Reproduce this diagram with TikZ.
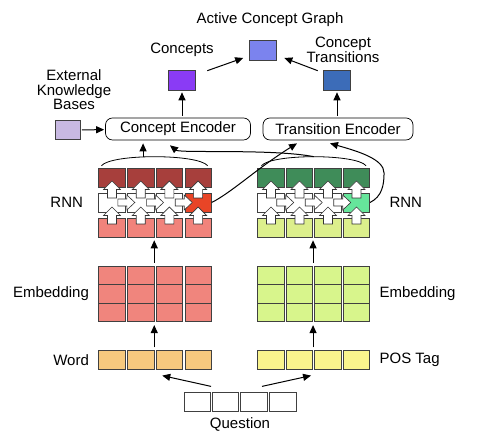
\documentclass[tikz,border=0pt]{standalone}
\usepackage{fontspec}
\setmainfont{Liberation Sans}
\usetikzlibrary{positioning,arrows.meta,calc}
\definecolor{cacg}{HTML}{7B83EE}
\definecolor{ccs}{HTML}{8A3BF5}
\definecolor{cct}{HTML}{3C6CB8}
\definecolor{ckb}{HTML}{C8B9E2}
\definecolor{cdred}{HTML}{A73F3C}
\definecolor{cred}{HTML}{E84527}
\definecolor{cpink}{HTML}{F1837B}
\definecolor{cembl}{HTML}{F0857D}
\definecolor{cword}{HTML}{F6C97E}
\definecolor{cdgreen}{HTML}{3F8C59}
\definecolor{cmint}{HTML}{66E59B}
\definecolor{clime}{HTML}{DCEF8C}
\definecolor{cembr}{HTML}{D8F58C}
\definecolor{cpos}{HTML}{FAF48D}
\tikzset{
  cell/.style={draw=black!75, line width=0.6pt, minimum width=26.5pt, minimum height=18.6pt, inner sep=0pt},
  rcell/.style={cell, minimum height=19pt},
  sq/.style={draw=black!75, line width=0.6pt, minimum width=27pt, minimum height=20pt, inner sep=0pt},
  enc/.style={draw, rounded corners=7pt, line width=0.7pt, minimum height=22pt, inner sep=2pt},
  lbl/.style={align=center},
  sig/.style={-{Triangle[length=8pt,width=7pt]}, line width=1pt},
  blk/.style={fill=white, draw=black!80, line width=0.6pt, line join=miter},
  blockup/.pic={\draw[blk] (-4.5,-8.5) -- (-4.5,0) -- (-8.5,0) -- (0,8.5) -- (8.5,0) -- (4.5,0) -- (4.5,-8.5) -- cycle;},
  blockright/.pic={\draw[blk] (-8.5,-3.5) -- (0.5,-3.5) -- (0.5,-7.5) -- (8.5,0) -- (0.5,7.5) -- (0.5,3.5) -- (-8.5,3.5) -- cycle;},
}
\begin{document}
\begin{tikzpicture}[x=1pt, y=1pt, font=\fontsize{15}{14.5}\selectfont]
  \useasboundingbox (0,0) rectangle (477,435);
  % question, word / pos tag, embedding, rnn
  \foreach \i/\x in {1/197.5,2/225.5,3/254,4/283}
    \node[cell, fill=white] (q\i) at (\x,33) {};
  \foreach \i/\mcl/\mcr in {1/white/white,2/white/white,3/white/white,4/cred/cmint}{
    \pgfmathsetmacro\xl{112+28.7*(\i-1)}
    \pgfmathsetmacro\xr{271+28.5*(\i-1)}
    \node[cell, fill=cword] (wL\i) at (\xl,75) {};
    \node[cell, fill=cpos] (wR\i) at (\xr,75) {};
    \foreach \j/\y in {1/159.5,2/141,3/122.5}{
      \node[cell, fill=cembl] (eL\i-\j) at (\xl,\y) {};
      \node[cell, fill=cembr] (eR\i-\j) at (\xr,\y) {};
    }
    \node[rcell, fill=cpink] (rbL\i) at (\xl,207.5) {};
    \node[rcell, fill=clime] (rbR\i) at (\xr,207.5) {};
    \node[rcell, fill=cdred] (rtL\i) at (\xl,257.5) {};
    \node[rcell, fill=cdgreen] (rtR\i) at (\xr,257.5) {};
    \node[rcell, fill=\mcl] (rmL\i) at (\xl,232.5) {};
    \node[rcell, fill=\mcr] (rmR\i) at (\xr,232.5) {};
  }
  \foreach \i in {1,2,3}{
    \pgfmathsetmacro\xl{126.35+28.7*(\i-1)}
    \pgfmathsetmacro\xr{285.25+28.5*(\i-1)}
    \pic at (\xl,232.5) {blockright};
    \pic at (\xr,232.5) {blockright};
  }
  \foreach \i in {1,...,4}{
    \pgfmathsetmacro\xl{112+28.7*(\i-1)}
    \pgfmathsetmacro\xr{271+28.5*(\i-1)}
    \pic at (\xl,219.5) {blockup};
    \pic at (\xl,245.5) {blockup};
    \pic at (\xr,219.5) {blockup};
    \pic at (\xr,245.5) {blockup};
  }
  \node (tq) at (240,11) {Question};
  \node[left=6pt of wL1] (tw) {Word};
  \node[right=6pt of wR4] (tp) {POS Tag};
  \node[left=6pt of eL1-2] (tel) {Embedding};
  \node[right=6pt of eR4-2] (ter) {Embedding};
  \node[left=12pt of rmL1] (trl) {RNN};
  \node[right=16pt of rmR4] (trr) {RNN};
  % encoders and graph
  \node[enc, minimum width=145pt] (ce) at (178,306) {Concept Encoder};
  \node[enc, minimum width=150pt] (te) at (338,306) {Transition Encoder};
  \node[sq, fill=ckb, minimum width=25pt, minimum height=19pt] (kb) at (68,305) {};
  \node[lbl] (tkb) at (74,345) {External\\Knowledge\\Bases};
  \node[sq, fill=ccs] (cs) at (182,355) {};
  \node (tcs) at (182,385) {Concepts};
  \node[sq, fill=cct] (ct) at (337,355) {};
  \node[lbl] (tct) at (343,385) {Concept\\Transitions};
  \node[sq, fill=cacg] (acg) at (263,385) {};
  \node (tacg) at (270,415) {Active Concept Graph};
  % connectors
  \draw[sig] ([yshift=6pt]q1.north east) -- ([xshift=8pt,yshift=-6pt]wL2.south east);
  \draw[sig] ([xshift=8pt,yshift=6pt]q3.north) -- ([xshift=-2pt,yshift=-6pt]wR2.south east);
  \draw[sig] ([yshift=3pt]wL2.north east) -- ([yshift=-3pt]eL2-3.south east);
  \draw[sig] ([yshift=3pt]wR2.north east) -- ([yshift=-3pt]eR2-3.south east);
  \draw[sig] ([yshift=3pt]eL2-1.north east) -- ([yshift=-3pt]rbL2.south east);
  \draw[sig] ([yshift=3pt]eR2-1.north east) -- ([yshift=-3pt]rbR2.south east);
  \draw[line width=0.8pt] ([xshift=3pt,yshift=2pt]rtL1.north west) .. controls +(10,12) and +(-10,12) .. coordinate[pos=0.42] (pkL) ([xshift=-4pt,yshift=2pt]rtL4.north east);
  \draw[line width=0.8pt] ([xshift=4pt,yshift=2pt]rtR1.north west) .. controls +(10,12) and +(-10,12) .. coordinate[pos=0.5] (pkR) ([xshift=-4pt,yshift=2pt]rtR4.north east);
  \draw[sig, shorten >=3pt] (pkL) -- (pkL |- ce.south);
  \draw[sig] (pkR) .. controls +(-40,8) and +(10,-8) .. ([xshift=-8pt,yshift=-5pt]ce.south);
  \draw[sig] (rmL4.east) .. controls +(20,10) and +(-40,-25) .. ([xshift=-41pt,yshift=-3pt]te.south);
  \coordinate (bendR) at ([xshift=14pt,yshift=29.5pt]rmR4.east);
  \draw[sig] (rmR4.east) .. controls +(12,6) and +(0,-12) .. (bendR) .. controls +(0,14) and +(28,-8) .. ([xshift=-8pt,yshift=-3pt]te.south);
  \draw[sig, shorten <=1pt, shorten >=1pt] (kb) -- (ce);
  \draw[sig] ([yshift=2pt]ce.north -| cs) -- ([yshift=-2pt]cs.south);
  \draw[sig] ([yshift=2pt]te.north -| ct) -- ([yshift=-2pt]ct.south);
  \draw[sig] ([xshift=11.5pt,yshift=-1pt]cs.north east) -- ([xshift=-6pt,yshift=-8pt]acg.west);
  \draw[sig] ([xshift=-5.5pt,yshift=-1pt]ct.north west) -- ([xshift=7.5pt,yshift=-8pt]acg.east);
\end{tikzpicture}
\end{document}
